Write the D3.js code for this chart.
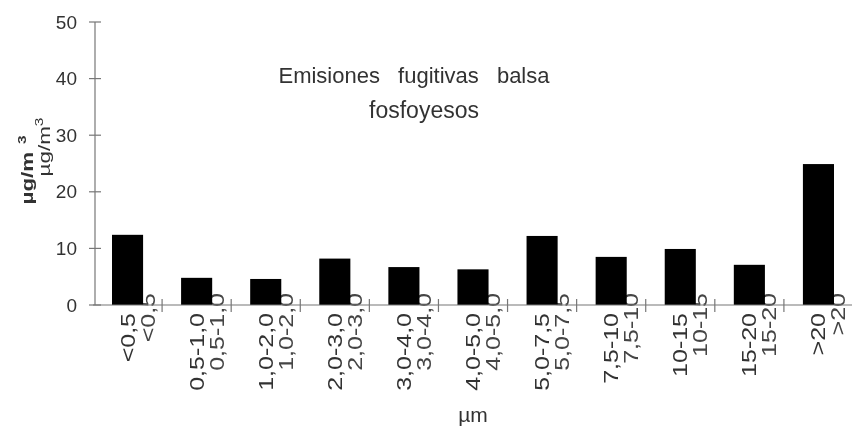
<!DOCTYPE html>
<html>
<head>
<meta charset="utf-8">
<script src="https://cdn.jsdelivr.net/npm/d3@7"></script>
<style>
  body { margin: 0; background: #fff; }
  text { font-family: "Liberation Sans", Arial, sans-serif; fill: #333; }
</style>
</head>
<body>
<div id="chart"></div>
<script>
// data
let categories = ["<0,5", "0,5-1,0", "1,0-2,0", "2,0-3,0", "3,0-4,0", "4,0-5,0",
  "5,0-7,5", "7,5-10", "10-15", "15-20", ">20"];
let values = [12.4, 4.8, 4.6, 8.2, 6.7, 6.3, 12.2, 8.5, 9.9, 7.1, 24.9];
let yTicks = [0, 10, 20, 30, 40, 50];
let titleLines = ["Emisiones fugitivas balsa", "fosfoyesos"];
let yTitle = "µg/m";
let xTitle = "µm";

let width = 852, height = 427;

let svg = d3.select("#chart")
  .append("svg")
  .attr("width", width)
  .attr("height", height);

// soft look like the scanned original
let defs = svg.append("defs");
defs.append("filter").attr("id", "soft")
  .append("feGaussianBlur").attr("stdDeviation", 0.55);

let g = svg.append("g").attr("filter", "url(#soft)");

let x = d3.scaleBand()
  .domain(categories)
  .range([93, 853])
  .padding(0);

let y = d3.scaleLinear()
  .domain([0, 50])
  .range([305, 22]);

// y axis
g.append("line")
  .attr("x1", 95).attr("x2", 95)
  .attr("y1", y(50)).attr("y2", y(0))
  .attr("stroke", "#777").attr("stroke-width", 1.2);

g.selectAll(".ytick")
  .data(yTicks)
  .enter()
  .append("line")
  .attr("x1", 89).attr("x2", 101)
  .attr("y1", d => y(d)).attr("y2", d => y(d))
  .attr("stroke", "#777").attr("stroke-width", 1.2);

g.selectAll(".ylab")
  .data(yTicks)
  .enter()
  .append("text")
  .attr("x", 77)
  .attr("y", d => y(d))
  .attr("dy", "0.35em")
  .attr("text-anchor", "end")
  .style("font-size", "19px")
  .text(d => d);

// secondary (offset) category labels, sitting behind the bars
let labelFont = 20, labelStretch = 1.25;
function catLabels(cls, dx, top, color) {
  g.selectAll("." + cls)
    .data(categories)
    .enter()
    .append("text")
    .attr("class", cls)
    .attr("transform", d => "translate(" + (x(d) + x.bandwidth() / 2 + dx) + "," + top + ") rotate(-90) scale(" + labelStretch + ",1)")
    .attr("text-anchor", "end")
    .attr("dy", "0.35em")
    .style("font-size", labelFont + "px")
    .style("fill", color)
    .text(d => d);
}
catLabels("lab2", 20, 293, "#444");

// bars
g.selectAll("rect")
  .data(values)
  .enter()
  .append("rect")
  .attr("x", (d, i) => x(categories[i]) + x.bandwidth() * 0.275)
  .attr("width", x.bandwidth() * 0.45)
  .attr("y", d => y(d))
  .attr("height", d => y(0) - y(d))
  .attr("fill", "#000");

// x axis with crossing ticks at the category boundaries
g.append("line")
  .attr("x1", 93).attr("x2", 853)
  .attr("y1", y(0)).attr("y2", y(0))
  .attr("stroke", "#777").attr("stroke-width", 1.2);

g.selectAll(".xtick")
  .data(categories.slice(1))
  .enter()
  .append("line")
  .attr("x1", d => x(d)).attr("x2", d => x(d))
  .attr("y1", y(0) - 6).attr("y2", y(0) + 7)
  .attr("stroke", "#777").attr("stroke-width", 1.2);

catLabels("lab1", 0, 313, "#333");

// axis titles
g.append("text")
  .attr("x", 473)
  .attr("y", 422)
  .attr("text-anchor", "middle")
  .style("font-size", "21px")
  .text(xTitle);

let yt1 = g.append("text")
  .attr("transform", "translate(33,170) rotate(-90) scale(1.4,1)")
  .attr("text-anchor", "middle")
  .style("font-size", "16px")
  .style("font-weight", "bold");
yt1.append("tspan").text(yTitle);
yt1.append("tspan").attr("dx", "0.5em").attr("dy", "-0.6em").style("font-size", "11px").text("3");

let yt2 = g.append("text")
  .attr("transform", "translate(50,147) rotate(-90) scale(1.4,1)")
  .attr("text-anchor", "middle")
  .style("font-size", "16px");
yt2.append("tspan").text(yTitle);
yt2.append("tspan").attr("dy", "-0.6em").style("font-size", "11px").text("3");

// chart title in two lines
g.append("text")
  .attr("x", 414)
  .attr("y", 83)
  .attr("text-anchor", "middle")
  .style("font-size", "22px")
  .style("word-spacing", "12px")
  .text(titleLines[0]);

g.append("text")
  .attr("x", 424)
  .attr("y", 118)
  .attr("text-anchor", "middle")
  .style("font-size", "23px")
  .text(titleLines[1]);
</script>
</body>
</html>
